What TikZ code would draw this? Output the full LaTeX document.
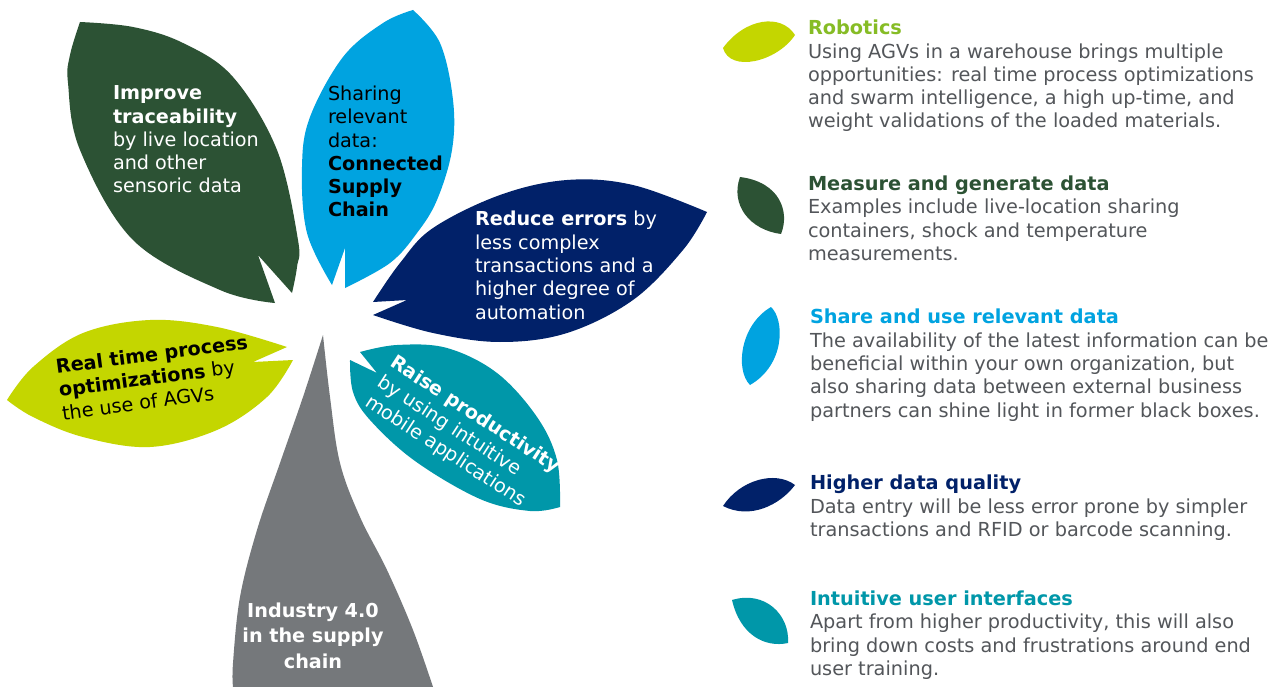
\documentclass[tikz,border=0pt]{standalone}
\usepackage{fontspec}
\setmainfont{DejaVu Sans}
\definecolor{lime}{HTML}{C4D600}
\definecolor{dkgreen}{HTML}{2C5234}
\definecolor{skyblue}{HTML}{00A3E0}
\definecolor{navy}{HTML}{012169}
\definecolor{teal}{HTML}{0097A9}
\definecolor{stemgray}{HTML}{75787B}
\definecolor{robgreen}{HTML}{86BC25}
\definecolor{bodygray}{HTML}{53565A}
\begin{document}
\begin{tikzpicture}[x=1pt,y=-1pt,
  every node/.style={inner sep=0pt, outer sep=0pt},
  leaftxt/.style={font=\fontsize{19.2}{23.3}\selectfont, align=left, anchor=base west},
  desc/.style={font=\fontsize{19.3}{23.3}\selectfont, text=bodygray, align=left, anchor=base west},
  sm/.style={smooth, tension=0.6}
]
\useasboundingbox[fill=white] (0,0) rectangle (1277,687);

% dark green leaf
\fill[dkgreen] plot[sm] coordinates {(80,22) (133,27) (183,43) (233,77) (277,150) (298,240) (297,267) (292,293)}
  -- (258,255) -- (275,303)
  -- plot[sm] coordinates {(275,303) (220,290) (133,240) (80,150) (68,83) (70,55) (80,22)} -- cycle;

% light blue leaf
\fill[skyblue] plot[sm] coordinates {(413,10) (440,43) (453,100) (452,150) (437,200) (417,233) (390,263) (345,288)}
  -- (345,248) -- (332,285)
  -- plot[sm] coordinates {(332,285) (307,233) (302,167) (310,117) (343,57) (383,23) (413,10)} -- cycle;

% navy leaf
\fill[navy] plot[sm] coordinates {(707,212) (633,185) (567,180) (500,195) (433,228) (400,263) (373,302)}
  -- (407,300) -- (373,315)
  -- plot[sm] coordinates {(373,315) (433,333) (500,342) (567,333) (633,300) (683,250) (707,212)} -- cycle;

% lime leaf
\fill[lime] plot[sm] coordinates {(287,347) (217,327) (150,320) (83,333) (33,367) (7,400)}
  -- plot[sm] coordinates {(7,400) (33,417) (83,437) (150,447) (217,430) (267,397) (293,360)}
  -- (253,362) -- cycle;

% gray stem
\fill[stemgray] plot[sm] coordinates {(323,335) (330,397) (340,463) (360,517) (387,570) (413,630) (433,687)}
  -- (233,687)
  -- plot[sm] coordinates {(233,687) (233,663) (240,597) (257,530) (280,463) (303,397) (323,335)} -- cycle;

% teal leaf
\fill[teal] plot[sm] coordinates {(360,352) (397,345) (447,348) (497,373) (537,417) (557,460) (560,507)}
  -- plot[sm] coordinates {(560,507) (530,511) (480,499) (415,461) (370,420) (353,392) (350,360)}
  -- (377,373) -- cycle;

% texts in leaves (anchored at the baseline of the last line)
\node[leaftxt, text=white] (trace) at (113,193) {\textbf{Improve}\\\textbf{traceability}\\by live location\\and other\\sensoric data};
\node[leaftxt, text=black] (shr) at (328,217) {Sharing\\relevant\\data:\\\textbf{Connected}\\\textbf{Supply}\\\textbf{Chain}};
\node[leaftxt, text=white] (err) at (475,319) {\textbf{Reduce errors} by\\less complex\\transactions and a\\higher degree of\\automation};
\node[leaftxt, text=black, rotate=7.5] (rtp) at (63,420) {\textbf{Real time process}\\\textbf{optimizations} by\\the use of AGVs};
\node[leaftxt, text=white, rotate=-33] (prod) at (364,405) {\textbf{Raise productivity}\\by using intuitive\\mobile applications};
\node[font=\bfseries\fontsize{19.2}{25.5}\selectfont, text=white, align=center, anchor=base] (ind) at (313,668) {Industry 4.0\\in the supply\\chain};

% legend icons
\fill[lime] (723,48) .. controls (745,18) and (781,13) .. (795,35) .. controls (777,62) and (730,73) .. cycle;
\fill[dkgreen] (740,177) .. controls (780,182) and (790,212) .. (781,234) .. controls (750,230) and (730,205) .. cycle;
\fill[skyblue] (771,307) .. controls (785,320) and (785,365) .. (750,385) .. controls (735,370) and (740,325) .. cycle;
\fill[navy] (723,506) .. controls (740,480) and (775,470) .. (795,485) .. controls (780,505) and (750,520) .. cycle;
\fill[teal] (732,600) .. controls (765,590) and (790,615) .. (788,643) .. controls (765,648) and (740,635) .. cycle;

% legend texts (anchored at the baseline of the last line)
\node[desc] (rob) at (808,128) {\textcolor{robgreen}{\textbf{Robotics}}\\Using AGVs in a warehouse brings multiple\\opportunities: real time process optimizations\\and swarm intelligence, a high up-time, and\\weight validations of the loaded materials.};
\node[desc] (meas) at (808,260.5) {\textcolor{dkgreen}{\textbf{Measure and generate data}}\\Examples include live-location sharing\\containers, shock and temperature\\measurements.};
\node[desc] (use) at (810,417) {\textcolor{skyblue}{\textbf{Share and use relevant data}}\\The availability of the latest information can be\\beneficial within your own organization, but\\also sharing data between external business\\partners can shine light in former black boxes.};
\node[desc] (qual) at (810,536.5) {\textcolor{navy}{\textbf{Higher data quality}}\\Data entry will be less error prone by simpler\\transactions and RFID or barcode scanning.};
\node[desc] (ui) at (810,675.5) {\textcolor{teal}{\textbf{Intuitive user interfaces}}\\Apart from higher productivity, this will also\\bring down costs and frustrations around end\\user training.};
\end{tikzpicture}
\end{document}
